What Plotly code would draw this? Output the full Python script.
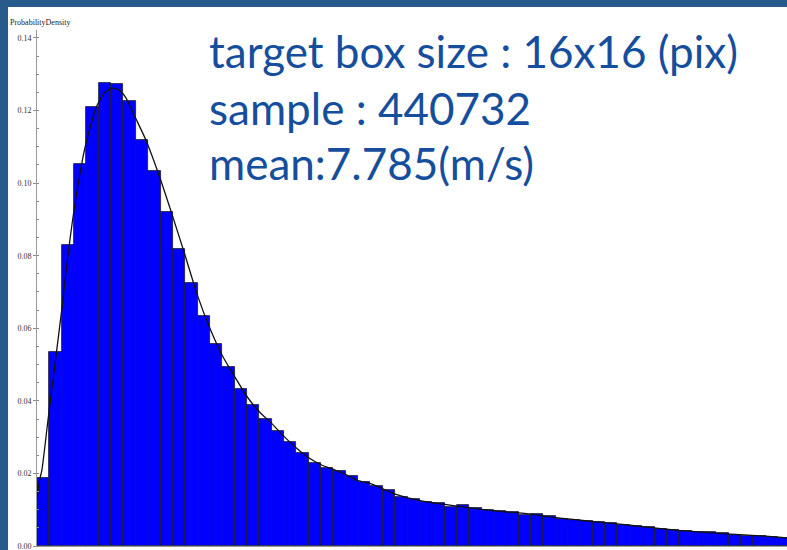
import plotly.graph_objects as go

# Histogram of wind speed (m/s), bin width 0.5
bin_width = 0.5
density = [
    0.0188, 0.0534, 0.0830, 0.1052, 0.1210, 0.1277, 0.1272, 0.1227, 0.1119, 0.1034,
    0.0920, 0.0818, 0.0724, 0.0633, 0.0556, 0.0492, 0.0433, 0.0389, 0.0349, 0.0317,
    0.0287, 0.0255, 0.0230, 0.0216, 0.0208, 0.0193, 0.0177, 0.0164, 0.0155, 0.0136,
    0.0130, 0.0122, 0.0118, 0.0108, 0.0112, 0.0105, 0.0100, 0.0096, 0.0093, 0.0086,
    0.0088, 0.0082, 0.0075, 0.0072, 0.0068, 0.0066, 0.0063, 0.0058, 0.0056, 0.0052,
    0.0047, 0.0044, 0.0041, 0.0039, 0.0038, 0.0035, 0.0031, 0.0028, 0.0027, 0.0024,
    0.0021,
]
bin_centers = [bin_width * (i + 0.5) for i in range(len(density))]

# Smoothed density estimate
curve_speed = [0, 0.1, 0.2, 0.45, 1.0, 1.25, 1.6, 1.95, 2.4, 2.75, 3.05, 3.35, 3.6, 4.0,
               4.4, 5.0, 5.5, 6.0, 6.5, 7.0, 7.5, 8.0, 8.5, 9.0, 9.5, 10.0, 10.5, 11.0,
               11.5, 12.0, 12.5, 13.0, 13.5, 14.5, 15.5, 17.0, 18.5, 20.0, 21.0, 22.0,
               23.5, 24.7, 26.0, 27.6, 29.3, 30.4]
curve_density = [0.0127, 0.0180, 0.0210, 0.0350, 0.0650, 0.0800, 0.0970, 0.1100, 0.1210,
                 0.1250, 0.1262, 0.1255, 0.1235, 0.1178, 0.1120, 0.1010, 0.0907, 0.0800,
                 0.0690, 0.0600, 0.0525, 0.0467, 0.0412, 0.0370, 0.0338, 0.0302, 0.0270,
                 0.0243, 0.0224, 0.0211, 0.0197, 0.0180, 0.0172, 0.0143, 0.0125, 0.0110,
                 0.0097, 0.0088, 0.0078, 0.0071, 0.0061, 0.0052, 0.0043, 0.0035, 0.0028,
                 0.0022]

y_ticks = [0.00, 0.02, 0.04, 0.06, 0.08, 0.10, 0.12, 0.14]
x_ticks = [5, 10, 15, 20, 25, 30]
info_lines = ["target box size : 16x16 (pix)", "sample : 440732", "mean:7.785(m/s)"]

W, H = 787, 550
ML, MR, MT, MB = 37, 0, 30, 4
PW, PH = W - ML - MR, H - MT - MB
slide_blue = "#285a8c"
text_blue = "#154e9c"
serif = "Liberation Serif, Times New Roman, serif"


def px_x(px):
    return (px - ML) / PW


def px_y(py):
    return (H - MB - py) / PH


fig = go.Figure()
fig.add_trace(go.Bar(
    x=bin_centers, y=density, width=bin_width,
    marker=dict(color="#0000ff", line=dict(color="#1a1a2a", width=0.8)),
    showlegend=False,
))
fig.add_trace(go.Scatter(
    x=curve_speed, y=curve_density, mode="lines",
    line=dict(color="#111111", width=1.3, shape="spline", smoothing=0.6),
    showlegend=False,
))

shapes = [
    dict(type="rect", xref="paper", yref="paper", x0=px_x(0), x1=px_x(8),
         y0=px_y(H), y1=px_y(0), fillcolor=slide_blue, line=dict(width=0)),
    dict(type="rect", xref="paper", yref="paper", x0=px_x(0), x1=px_x(W),
         y0=px_y(7), y1=px_y(0), fillcolor=slide_blue, line=dict(width=0)),
]

annotations = [
    dict(text="ProbabilityDensity", xref="paper", yref="paper", x=px_x(8), y=px_y(23),
         xanchor="left", yanchor="middle", showarrow=False,
         font=dict(family=serif, size=8, color="#222222")),
]
for line, cy in zip(info_lines, [51, 108, 163]):
    annotations.append(dict(
        text=line, xref="paper", yref="paper", x=px_x(207), y=px_y(cy),
        xanchor="left", yanchor="middle", showarrow=False,
        font=dict(family="Lato, sans-serif", size=44, color=text_blue),
    ))

fig.update_layout(
    width=W, height=H,
    margin=dict(l=ML, r=MR, t=MT, b=MB, pad=0, autoexpand=False),
    paper_bgcolor="white", plot_bgcolor="white",
    bargap=0,
    shapes=shapes,
    annotations=annotations,
    xaxis=dict(
        range=[0, PW / (2 * 12.35)], tickvals=x_ticks, ticks="", automargin=False,
        showgrid=False, zeroline=False, showline=True, linecolor="#999999", linewidth=1,
        tickfont=dict(family=serif, size=8, color="#333333"),
    ),
    yaxis=dict(
        range=[0, 0.1422], tickvals=y_ticks, tickformat=".2f", automargin=False,
        ticklabeloverflow="allow",
        ticks="outside", ticklen=3, tickcolor="#888888",
        minor=dict(dtick=0.005, ticks="inside", ticklen=2, tickcolor="#888888"),
        showgrid=False, zeroline=False, showline=True, linecolor="#999999", linewidth=1,
        tickfont=dict(family=serif, size=8, color="#333333"),
    ),
)

fig.write_html("out.html")
